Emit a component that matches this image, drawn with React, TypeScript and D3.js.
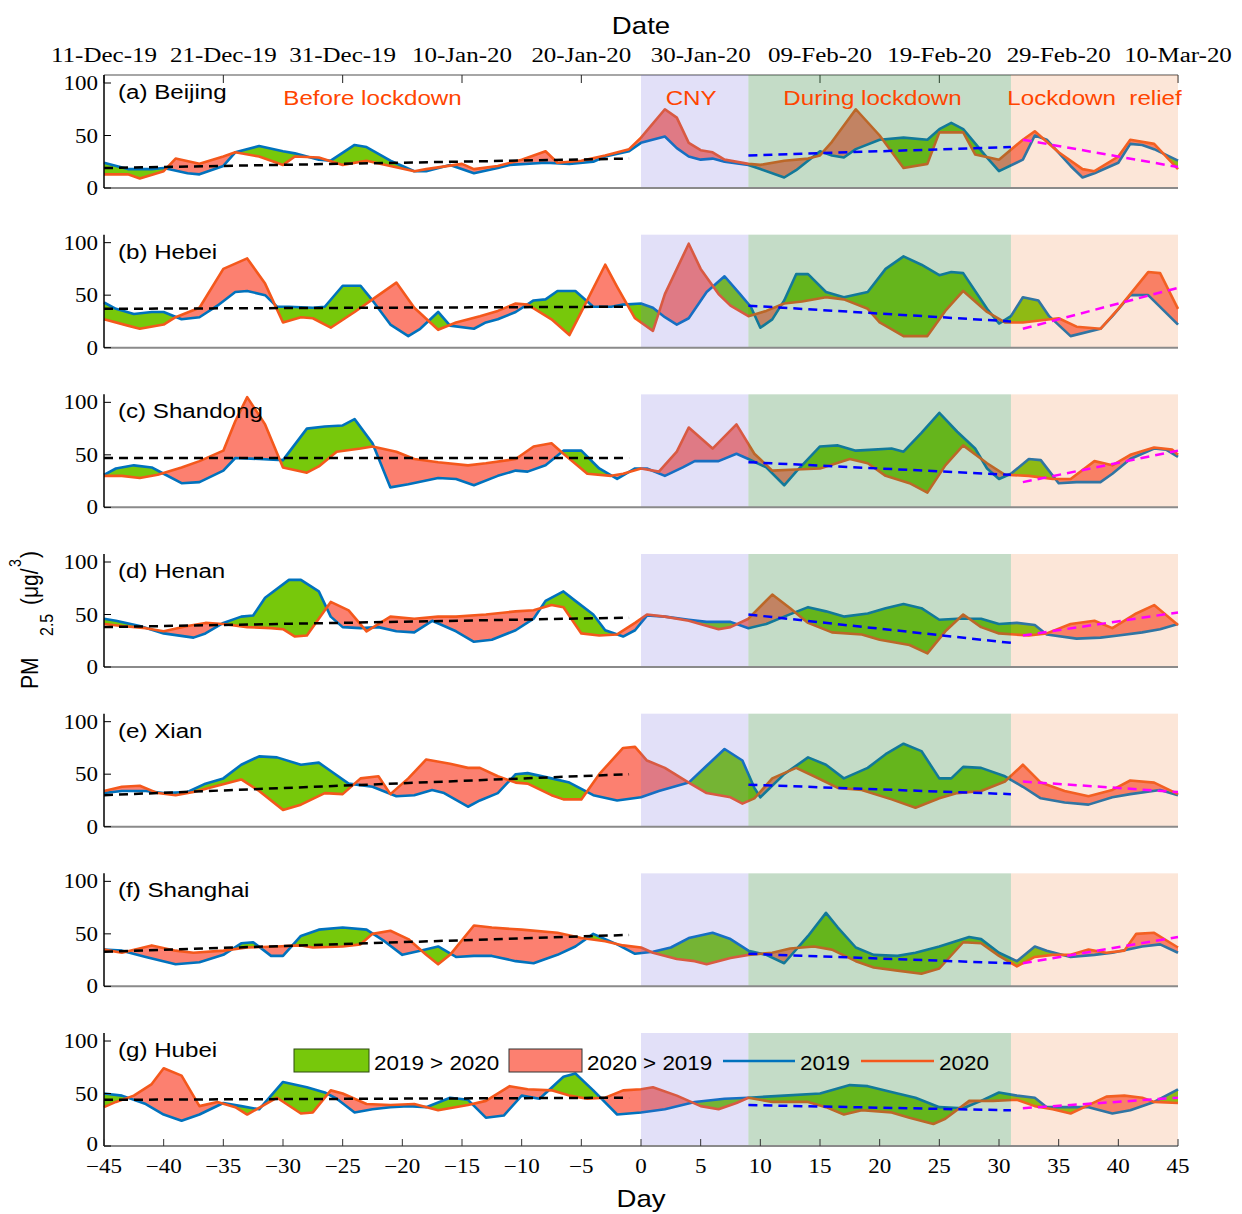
import React from 'react';
import * as d3 from 'd3';

type Pt = [number, number];

// ---------------- DATA (day, PM2.5 µg/m3) ----------------
const beijing2019: Pt[] = [[-45,24],[-43,18],[-41,18],[-40,19],[-38,14],[-37,13],[-35,21],[-34,34],[-32,40],[-30,35],[-29,33],[-27,27],[-26,26],[-24,41],[-23,39],[-21,26],[-19,16],[-18,16],[-16,22],[-14,14],[-12,19],[-11,22],[-8,24],[-6,23],[-4,25],[-3,30],[-1,35],[0,43],[2,49],[3,38],[4,30],[5,27],[6,28],[7,25],[9,22],[10,18],[12,10],[13,17],[15,35],[16,31],[17,29],[18,37],[20,46],[22,48],[24,46],[25,56],[26,62],[27,56],[29,29],[30,16],[32,27],[33,50],[34,46],[36,21],[37,10],[38,14],[40,24],[41,42],[42,41],[43,37],[45,26]];
const beijing2020: Pt[] = [[-45,13],[-43,13],[-42,9],[-40,16],[-39,28],[-37,23],[-35,30],[-34,34],[-32,30],[-30,22],[-29,30],[-27,29],[-25,22],[-23,26],[-21,21],[-19,16],[-18,18],[-15,23],[-14,18],[-12,21],[-10,27],[-8,35],[-7,24],[-5,26],[-3,31],[-1,37],[0,48],[2,75],[3,67],[4,43],[5,36],[6,34],[7,27],[9,23],[10,22],[12,26],[14,28],[15,31],[16,44],[18,75],[20,50],[22,19],[24,23],[25,53],[27,53],[28,32],[30,27],[32,46],[33,54],[35,34],[37,18],[38,16],[40,30],[41,46],[43,42],[45,18]];

const hebei2019: Pt[] = [[-45,43],[-44,37],[-42.5,32],[-41,34],[-40,34],[-38.5,27],[-37,29],[-35.5,40],[-34,53],[-33,54],[-31.5,50],[-30.5,39],[-29.5,39],[-27.5,38],[-26.5,39],[-25,59],[-23.5,59],[-22.5,45],[-21,22],[-19.5,11],[-18.5,18],[-17,34],[-16,21],[-14,18],[-13,24],[-12,27],[-10.5,34],[-9,45],[-8,46],[-7,54],[-5.5,54],[-4,39],[-2.5,39],[-1.5,41],[0,42],[1,38],[2,29],[3,22],[4,28],[5.5,53],[7,68],[8.3,51],[9.2,39],[10,19],[11,27],[12,45],[13,70],[14,70],[15.5,53],[17,48],[19,53],[20.5,75],[22,87],[23.5,79],[25,69],[26,72],[27,71],[29,37],[30,23],[31,30],[32,48],[33.3,45],[34.2,30],[36,11],[38.5,18],[39.5,30],[41,50],[42.5,50],[45,22]];
const hebei2020: Pt[] = [[-45,27],[-43,21],[-42,18],[-40,22],[-39,29],[-37,38],[-35,75],[-33,85],[-31.5,61],[-30,24],[-28.5,29],[-27.5,28],[-26,19],[-24,34],[-22.5,46],[-20.5,62],[-19,38],[-17,17],[-15.5,24],[-13.5,30],[-12,35],[-10.5,42],[-9.5,41],[-7.5,27],[-6,12],[-5,34],[-3,79],[-2,58],[-0.5,28],[1,16],[2,51],[4,99],[5,75],[6.5,51],[7.5,40],[9,30],[10.5,35],[12,42],[13.5,44],[15.5,48],[17,46],[19,37],[20,24],[22,11],[24,11],[25.5,35],[27,54],[29,34],[30.5,24],[32,24],[35,28],[36.5,20],[38.5,18],[40,37],[42.5,72],[43.5,71],[45,37]];

const shandong2019: Pt[] = [[-45,31],[-44,37],[-42.5,40],[-41,38],[-40,32],[-38.5,23],[-37,24],[-35,35],[-34,47],[-32,46],[-30,45],[-28,75],[-26.5,77],[-25,78],[-24,84],[-22.5,61],[-21,19],[-19.5,22],[-17,28],[-15.5,27],[-14,21],[-12,30],[-10.5,35],[-9.5,34],[-8,40],[-6.5,54],[-5,54],[-3.5,37],[-2,27],[-0.5,37],[0.5,37],[2,30],[3.5,38],[4.5,44],[6.5,44],[8,51],[9,46],[10.5,38],[12,21],[13,34],[15,58],[16.5,59],[18,54],[19.5,55],[21,56],[22,53],[23.5,71],[25,90],[26.5,72],[28,56],[29,37],[30,27],[31,32],[32.5,46],[33.5,45],[35,23],[36.5,24],[38.5,24],[39.5,32],[41,46],[43,56],[44,55],[45,48]];
const shandong2020: Pt[] = [[-45,30],[-43.5,30],[-42,28],[-40.5,31],[-38.5,38],[-37,44],[-35,54],[-34,82],[-33,105],[-31.5,79],[-30,38],[-28,33],[-27,39],[-25.5,53],[-23.5,56],[-22.5,58],[-20.5,53],[-19,46],[-17,43],[-14.5,40],[-13,42],[-10.5,46],[-9,58],[-7.5,61],[-6.5,51],[-4.5,32],[-2.5,30],[-1.5,32],[0,37],[1.5,34],[3,53],[4,76],[6,56],[8,79],[9.5,51],[11,35],[13,36],[15,37],[17.5,46],[19,42],[20.5,30],[22.5,23],[24,14],[25.5,40],[27,59],[29,42],[30.5,31],[32.5,30],[34.5,27],[36,27],[38,44],[39.5,40],[41,50],[43,57],[44.5,55],[45,50]];

const henan2019: Pt[] = [[-45,46],[-44,44],[-42,39],[-40,32],[-37.5,28],[-36.5,32],[-35,42],[-33.5,48],[-32.5,49],[-31.5,66],[-29.5,83],[-28.5,83],[-27,72],[-26,48],[-25,38],[-23.5,37],[-22,38],[-20.5,34],[-19,33],[-17.5,44],[-15.5,34],[-14,24],[-12.5,26],[-10.5,35],[-9,46],[-8,63],[-6.5,72],[-5.5,63],[-4,50],[-3,35],[-1.5,29],[-0.5,35],[0.5,49],[2,48],[4,45],[5.5,43],[7.5,43],[9,37],[10.5,41],[12,48],[14,57],[15.5,53],[17,48],[19,51],[20.5,56],[22,60],[23.5,56],[25,45],[26.5,46],[28.5,46],[30,41],[31.5,42],[33,40],[34,31],[36.5,27],[38.5,28],[40,30],[42,33],[43.5,36],[45,41]];
const henan2020: Pt[] = [[-45,41],[-43.5,39],[-41.5,37],[-40,34],[-38,39],[-36.5,42],[-35,41],[-33,38],[-31,37],[-30,36],[-29,29],[-28,30],[-26,62],[-24.5,54],[-23,34],[-21,48],[-19,46],[-17,48],[-15.5,48],[-13,50],[-10.5,53],[-9,54],[-7.5,59],[-6.5,57],[-5,32],[-3.5,30],[-2,31],[-0.5,42],[0.5,50],[2,48],[4,44],[6.5,36],[7.5,38],[9,46],[11,69],[12.5,56],[14,42],[16,33],[18.5,31],[20,26],[22.5,21],[24,13],[25.5,34],[27,50],[28.5,38],[30,32],[32.5,30],[34,32],[36,41],[38,44],[39.5,37],[41.5,51],[43,59],[45,40]];

const xian2019: Pt[] = [[-45,32],[-43.5,34],[-41.5,34],[-40,32],[-38,33],[-36.5,41],[-35,46],[-33.5,59],[-32,67],[-30.5,66],[-28.5,59],[-27,61],[-26,53],[-24.5,41],[-22.5,38],[-20.5,29],[-19,30],[-17.5,35],[-16.5,32],[-14.5,19],[-13.5,25],[-12,32],[-10.5,50],[-9.5,51],[-7.5,46],[-6,42],[-4,30],[-2,25],[0,28],[1.5,34],[4,42],[5.5,58],[7,74],[8.5,63],[9.5,37],[10,28],[12,50],[14,66],[15.5,59],[17,46],[19,56],[20.5,69],[22,79],[23.5,72],[25,46],[26,46],[27,57],[28.5,56],[30.5,48],[32,38],[33.5,27],[35.5,23],[37.5,21],[39.5,28],[41,31],[43.5,35],[45,30]];
const xian2020: Pt[] = [[-45,34],[-43.5,38],[-42,39],[-40.5,32],[-39,30],[-37.5,33],[-35.5,39],[-33.5,45],[-32,34],[-30,16],[-28.5,21],[-26.5,32],[-25,31],[-23.5,46],[-22,48],[-21,31],[-19.5,46],[-18,64],[-16,60],[-14.5,56],[-13.5,56],[-12,48],[-10.5,42],[-9.5,41],[-7.5,30],[-6.5,26],[-5,26],[-3.5,50],[-1.5,75],[-0.5,76],[0.5,63],[2,56],[4,42],[5.5,32],[7.5,28],[8.5,22],[9.5,27],[11,46],[13,56],[14.5,48],[16.5,37],[18.5,35],[21,26],[23,18],[25,27],[26.5,32],[28.5,34],[30.5,43],[32,59],[33.5,42],[35.5,34],[37.5,29],[39.5,35],[41,44],[43,42],[45,31]];

const shanghai2019: Pt[] = [[-45,35],[-43.5,34],[-41.5,28],[-39,21],[-37,23],[-35,30],[-33.5,41],[-32.5,42],[-31,29],[-30,29],[-28.5,48],[-27,54],[-25,56],[-23,54],[-21.5,43],[-20,30],[-18.5,34],[-17,38],[-15.5,28],[-14,29],[-12.5,29],[-10.5,24],[-9,22],[-7,30],[-5.5,38],[-4,50],[-2,40],[-0.5,31],[1,33],[2.5,37],[4,46],[6,51],[7.5,45],[9,34],[10.5,30],[12,22],[14,48],[15.5,70],[16.5,56],[18,37],[19.5,30],[21.5,29],[23,32],[25,38],[27.5,47],[28.5,45],[30,32],[31.5,24],[33,38],[34,34],[36,28],[38,30],[39.5,32],[42,38],[43.5,40],[45,32]];
const shanghai2020: Pt[] = [[-45,35],[-43.5,32],[-41,39],[-39,34],[-37.5,32],[-35,34],[-33,37],[-30.5,38],[-28.5,39],[-27.5,37],[-25,38],[-23.5,40],[-22.5,50],[-21,53],[-19.5,45],[-18,30],[-17,21],[-16,30],[-14,58],[-12.5,56],[-10,54],[-7,51],[-5,46],[-3,43],[-1.5,39],[0,37],[1,32],[3,26],[4.5,24],[5.5,21],[7.5,27],[9,30],[11,32],[12.5,36],[14.5,38],[16,35],[18,24],[19.5,18],[21.5,15],[23.5,12],[25,17],[27,42],[28.5,41],[30,29],[31.5,19],[33,28],[34.5,30],[36,30],[37.5,35],[39,32],[40.5,34],[41.5,50],[43,51],[45,37]];

const hubei2019: Pt[] = [[-45,50],[-43.5,48],[-41.5,40],[-40,30],[-38.5,24],[-37,30],[-35,41],[-33.5,38],[-32,35],[-30,61],[-28,56],[-26.5,51],[-25.5,45],[-24,32],[-22.5,35],[-21,37],[-19.5,38],[-18,37],[-16,46],[-14.5,44],[-13,27],[-11.5,29],[-10,48],[-8.5,45],[-6.5,66],[-5.5,69],[-4,53],[-2,30],[0,32],[2,35],[4.5,42],[7,45],[9,46],[12,48],[15,50],[17.5,58],[19,57],[21.5,50],[23,46],[25,37],[27,36],[28.5,43],[30,51],[31.5,48],[33,46],[34,37],[36,37],[37.5,37],[39.5,31],[41,34],[43,42],[45,54]];
const hubei2020: Pt[] = [[-45,37],[-44,42],[-42.5,48],[-41,59],[-40,74],[-38.5,67],[-37,38],[-35.5,42],[-34,37],[-33,30],[-30.5,46],[-28.5,31],[-27.5,32],[-26,53],[-25,50],[-23,40],[-21,39],[-19,40],[-17,34],[-14.5,39],[-13,43],[-11,57],[-9.5,54],[-7.5,53],[-6,48],[-4.5,45],[-3,46],[-1.5,53],[0,54],[1,56],[3,48],[5,38],[6.5,35],[8,41],[9,46],[11,42],[14,42],[15.5,37],[17,30],[18.5,34],[21,32],[22.5,27],[24.5,21],[25.5,26],[27.5,43],[29.5,43],[31.5,44],[33,38],[34.5,35],[36,31],[37.5,39],[39,47],[40.5,48],[42,46],[43,42],[45,41]];

// linear trends: before lockdown (black), during lockdown (blue), lockdown relief (magenta)
const trendBefore: Pt[][] = [[[-45,19],[-1,28]],[[-45,37],[-1,39]],[[-45,47],[-1,47]],[[-45,38],[-1,47]],[[-45,30],[-1,50]],[[-45,33],[-1,49]],[[-45,44],[-1,46]]];
const trendDuring: Pt[][] = [[[9,31],[31,39]],[[9,40],[31,25]],[[9,43],[31,31]],[[9,50],[31,23]],[[9,40],[31,31]],[[9,31],[31,22]],[[9,39],[31,34]]];
const trendRelief: Pt[][] = [[[32,46],[45,20]],[[32,18],[45,57]],[[32,24],[45,54]],[[32,30],[45,52]],[[32,43],[45,33]],[[32,22],[45,47]],[[32,36],[45,46]]];

const regionLabels = ['(a) Beijing', '(b) Hebei', '(c) Shandong', '(d) Henan', '(e) Xian', '(f) Shanghai', '(g) Hubei'];
const series2019 = [beijing2019, hebei2019, shandong2019, henan2019, xian2019, shanghai2019, hubei2019];
const series2020 = [beijing2020, hebei2020, shandong2020, henan2020, xian2020, shanghai2020, hubei2020];

const dateTickDays = [-45, -35, -25, -15, -5, 5, 15, 25, 35, 45];
const dateLabels = ['11-Dec-19', '21-Dec-19', '31-Dec-19', '10-Jan-20', '20-Jan-20', '30-Jan-20', '09-Feb-20', '19-Feb-20', '29-Feb-20', '10-Mar-20'];
const dayTicks = d3.range(-45, 46, 5);
const yTicks = [0, 50, 100];
const periodLabels = ['Before lockdown', 'CNY', 'During lockdown', 'Lockdown  relief'];
const periodLabelDay = [-22.5, 4.2, 19.4, 38];

// ---------------- STYLE ----------------
const GREEN = '#77C80B';
const RED = '#FC8070';
const BLUE = '#0072BD';
const ORANGE = '#F4581C';
const PERIOD_TXT = '#FF4500';
const bands = [
  { from: 0, to: 9, color: 'rgb(110,100,220)', op: 0.2 },
  { from: 9, to: 31, color: 'rgb(60,140,70)', op: 0.3 },
  { from: 31, to: 45, color: 'rgb(240,130,60)', op: 0.2 },
];
const SANS = '"Liberation Sans", Arial, Helvetica, sans-serif';
const SERIF = '"Liberation Serif", "Times New Roman", serif';
const SX = 1.15;

const x = d3.scaleLinear().domain([-45, 45]).range([104, 1178]);

function T(props: { x: number; y: number; anchor?: string; size: number; family?: string; fill?: string; sx?: number; children: React.ReactNode }) {
  const { anchor = 'start', family = SANS, fill = '#000', sx = SX } = props;
  return (
    <text transform={`translate(${props.x},${props.y}) scale(${sx},1)`} textAnchor={anchor} fontSize={props.size} fontFamily={family} fill={fill} style={{ whiteSpace: 'pre' }}>
      {props.children}
    </text>
  );
}

function Panel({ idx }: { idx: number }) {
  const bottom = 188 + idx * 159.67;
  const top = bottom - 113;
  const y = d3.scaleLinear().domain([0, 100]).range([bottom, bottom - 105]);
  const line = d3.line<Pt>().x(d => x(d[0])).y(d => y(d[1]));
  const below = d3.area<Pt>().x(d => x(d[0])).y0(bottom).y1(d => y(d[1]));
  const above = d3.area<Pt>().x(d => x(d[0])).y0(top - 30).y1(d => y(d[1]));
  const s19 = series2019[idx];
  const s20 = series2020[idx];
  const c19 = `ab19-${idx}`;
  const c20 = `ab20-${idx}`;
  return (
    <g>
      <defs>
        <clipPath id={c19}><path d={above(s19) || ''} /></clipPath>
        <clipPath id={c20}><path d={above(s20) || ''} /></clipPath>
      </defs>
      <path d={below(s19) || ''} fill={GREEN} clipPath={`url(#${c20})`} />
      <path d={below(s20) || ''} fill={RED} clipPath={`url(#${c19})`} />
      <path d={line(s19) || ''} fill="none" stroke={BLUE} strokeWidth={2.6} strokeLinejoin="round" />
      <path d={line(s20) || ''} fill="none" stroke={ORANGE} strokeWidth={2.6} strokeLinejoin="round" />
      {idx === 0 && (
        <g>
          <line x1={x(-45)} x2={x(45)} y1={top} y2={top} stroke="#888" strokeWidth={1.5} />
          {dateTickDays.filter(d => d !== 5 && d !== 35).map(d => (
            <line key={d} x1={x(d)} x2={x(d)} y1={top} y2={top + 8} stroke="#222" strokeWidth={1} />
          ))}
        </g>
      )}
      {bands.map((b, i) => (
        <rect key={i} x={x(b.from)} y={top} width={x(b.to) - x(b.from)} height={bottom - top} fill={b.color} fillOpacity={b.op} />
      ))}
      <path d={line(trendBefore[idx]) || ''} fill="none" stroke="#000" strokeWidth={2.5} strokeDasharray="9,6" />
      <path d={line(trendDuring[idx]) || ''} fill="none" stroke="#0000FF" strokeWidth={2.5} strokeDasharray="9,6" />
      <path d={line(trendRelief[idx]) || ''} fill="none" stroke="#FF00FF" strokeWidth={2.5} strokeDasharray="9,6" />
      <line x1={x(-45)} x2={x(45)} y1={bottom} y2={bottom} stroke="#8a8a8a" strokeWidth={2} />
      <line x1={x(-45)} x2={x(-45)} y1={top} y2={bottom} stroke="#000" strokeWidth={1.5} />
      {yTicks.map(v => (
        <g key={v}>
          <line x1={x(-45)} x2={x(-45) + 7} y1={y(v)} y2={y(v)} stroke="#000" strokeWidth={1} />
          <T x={98} y={y(v) + (idx === 6 && v === 0 ? 5 : 7)} anchor="end" size={20} family={SERIF}>{String(v)}</T>
        </g>
      ))}
      {idx === 6 && dayTicks.map(d => (
        <g key={d}>
          <line x1={x(d)} x2={x(d)} y1={bottom} y2={bottom - 7} stroke="#333" strokeWidth={1} />
          <T x={x(d)} y={1173} anchor="middle" size={20} family={SERIF}>{d < 0 ? `\u2212${-d}` : String(d)}</T>
        </g>
      ))}
      <T x={118} y={top + 24} size={21}>{regionLabels[idx]}</T>
      {idx === 0 && periodLabels.map((p, i) => (
        <T key={p} x={x(periodLabelDay[i])} y={top + 30} anchor="middle" size={21} fill={PERIOD_TXT}>{p}</T>
      ))}
    </g>
  );
}

function Legend() {
  const yMid = 1061;
  return (
    <g>
      <rect x={294} y={1049} width={75} height={23} fill={GREEN} stroke="#2d4a10" strokeWidth={1} />
      <T x={374} y={1070} size={19.5}>{'2019 > 2020'}</T>
      <rect x={509} y={1049} width={73} height={23} fill={RED} stroke="#333" strokeWidth={1} />
      <T x={587} y={1070} size={19.5}>{'2020 > 2019'}</T>
      <line x1={723} x2={795} y1={yMid} y2={yMid} stroke={BLUE} strokeWidth={2.6} />
      <T x={800} y={1070} size={19.5}>2019</T>
      <line x1={861} x2={934} y1={yMid} y2={yMid} stroke={ORANGE} strokeWidth={2.6} />
      <T x={939} y={1070} size={19.5}>2020</T>
    </g>
  );
}

function YLabel() {
  return (
    <g transform="translate(38,689) rotate(-90) scale(1,1.15)" fontFamily={SANS} fill="#000">
      <text x={0} y={0} fontSize={21}>PM</text>
      <text x={53} y={13} fontSize={16}>2.5</text>
      <text x={84} y={0} fontSize={21}>(μg/</text>
      <text x={122} y={-14.5} fontSize={14}>3</text>
      <text x={131} y={0} fontSize={21}>)</text>
    </g>
  );
}

export default function App() {
  return (
    <svg width={1242} height={1214} style={{ position: 'absolute', left: 0, top: 0, display: 'block' }}>
      <rect x={0} y={0} width={1242} height={1214} fill="#fff" />
      <T x={641} y={34} anchor="middle" size={24}>Date</T>
      {dateTickDays.map((d, i) => (
        <T key={d} x={x(d)} y={62} anchor="middle" size={20} family={SERIF} sx={1.25}>{dateLabels[i]}</T>
      ))}
      {regionLabels.map((_, i) => <Panel key={i} idx={i} />)}
      <Legend />
      <YLabel />
      <T x={641} y={1207} anchor="middle" size={24}>Day</T>
    </svg>
  );
}
